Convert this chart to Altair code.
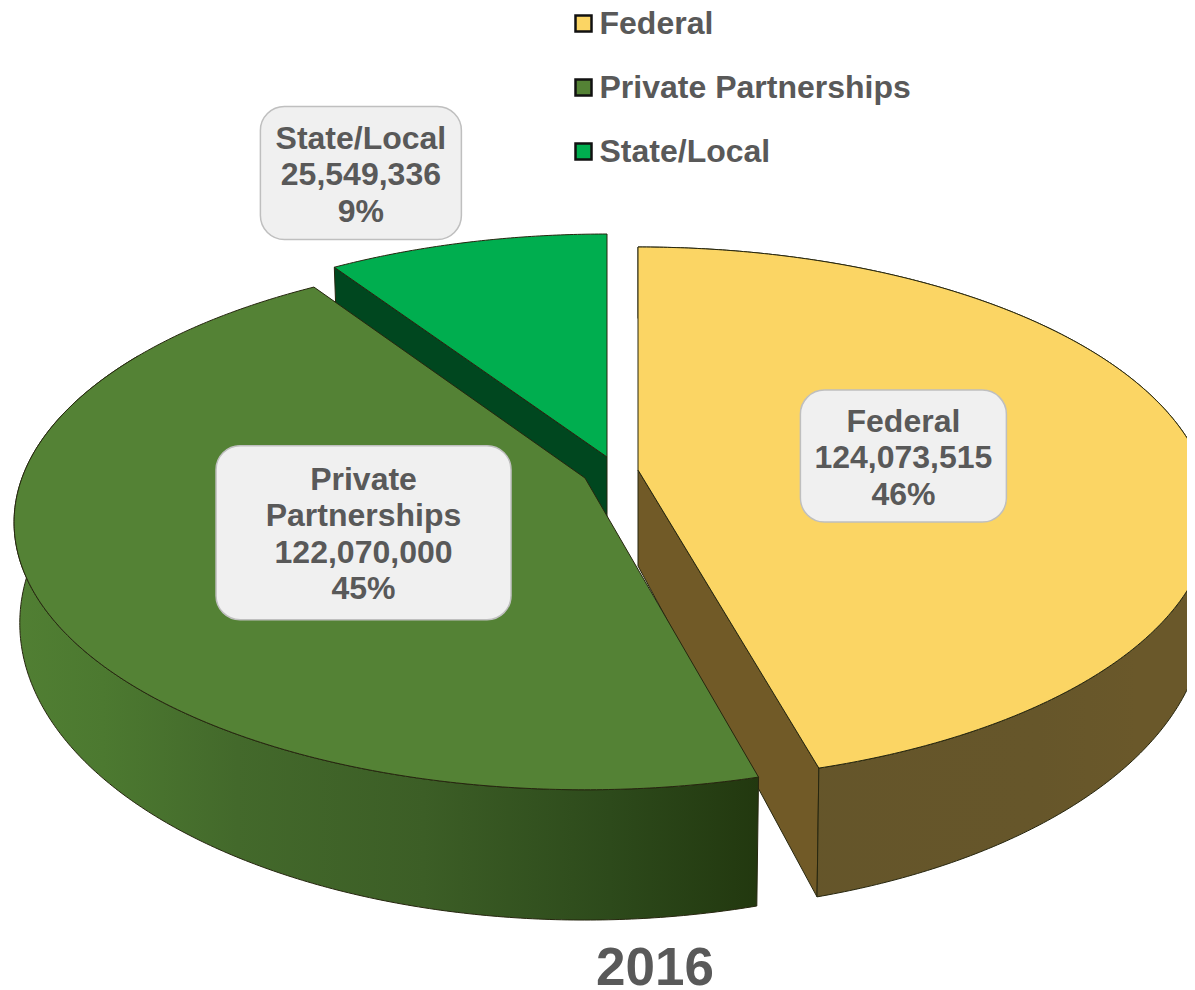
import math
import altair as alt
import pandas as pd

# ---- chart values ----
sources = ["Federal", "Private Partnerships", "State/Local"]
amounts = [124073515, 122070000, 25549336]
label_names = ["Federal", "Private\nPartnerships", "State/Local"]
year = "2016"

# ---- look ----
TOP = ["#fbd564", "#548235", "#00ae4f"]
TEXT = "#595959"
FONT = "Liberation Sans"
EDGE = "#26260f"
LINE = 36.5

# ---- layout of the tilted pie (page pixels) ----
B, K = 260.0, 0.166        # half axis and perspective
A = {"Federal": 565.0, "Private Partnerships": 563.0, "State/Local": 557.0}
ROTATE = {"Federal": 0.0, "Private Partnerships": 0.6, "State/Local": 0.0}
APEX = {"Federal": (638, 470), "Private Partnerships": (585, 478), "State/Local": (607, 457)}
DROP, DROP_K, SHRINK = 96.0, 0.11, 0.99   # depth of the pie's side wall
# label place: radius fraction and angle shift from the middle of its slice
LABEL_POS = {"Federal": (0.477, 1.3), "Private Partnerships": (0.431, -3.4), "State/Local": (1.439, -5.1)}
LABEL_BOX = {"Federal": (206, 132), "Private Partnerships": (295, 174), "State/Local": (201, 133)}
TEXT_NUDGE = 2

total = sum(amounts)
spans, start = {}, 0.0
for s, v in zip(sources, amounts):
    spans[s] = (start, start + 360.0 * v / total)
    start += 360.0 * v / total


def project(src, theta, r=1.0):
    cx, cy = APEX[src]
    t = math.radians(theta + ROTATE[src])
    u, v = r * math.sin(t), r * math.cos(t)
    w = 1 + K * v
    return cx + A[src] * u / w, cy - B * v / w


def lower(src, p):
    cx, cy = APEX[src]
    return cx + (p[0] - cx) * SHRINK, p[1] + DROP + DROP_K * (p[1] - cy)


def rim(src, a, b):
    n = max(2, int(abs(b - a) * 2))
    return [project(src, a + (b - a) * i / n) for i in range(n + 1)]


def frame(src, face, pts):
    pts = list(pts) + [pts[0]]
    return pd.DataFrame({"x": [p[0] for p in pts], "y": [p[1] for p in pts],
                         "source": src, "face": face, "i": range(len(pts))})


XS = alt.Scale(domain=[8, 1187], nice=False, zero=False)
YS = alt.Scale(domain=[990, 8], nice=False, zero=False)
X = alt.X("x:Q", scale=XS, axis=None)
Y = alt.Y("y:Q", scale=YS, axis=None)
ORDER = alt.Order("i:Q")


def grad(stops):
    return alt.Gradient(gradient="linear", x1=0, x2=1, y1=0, y2=0,
                        stops=[alt.GradientStop(color=c, offset=o) for o, c in stops])


def solid(df, fill):
    return alt.Chart(df).mark_line(fill=fill, stroke=EDGE, strokeWidth=1, clip=True).encode(x=X, y=Y, order=ORDER)


def top_face(src):
    a, b = spans[src]
    return frame(src, "top", [APEX[src]] + rim(src, a, b))


def rim_wall(src, a, b):
    r = rim(src, a, b)
    return frame(src, "wall", r + [lower(src, p) for p in reversed(r)])


def cut_wall(src, theta):
    apex, p = APEX[src], project(src, theta)
    return frame(src, "cut", [apex, p, lower(src, p), lower(src, apex)])


fed, pri, sta = sources
layers = []

layers.append(solid(cut_wall(sta, spans[sta][0]), "#00471f"))
layers.append(solid(cut_wall(fed, spans[fed][1]), "#715a27"))
layers.append(alt.Chart(rim_wall(fed, 0, spans[fed][1])).mark_line(
    fill=grad([(0, "#64552a"), (0.7, "#66562a"), (0.87, "#6a582a"), (1, "#6a582a")]),
    stroke=EDGE, strokeWidth=1, clip=True).encode(x=X, y=Y, order=ORDER))
layers.append(alt.Chart(rim_wall(pri, spans[pri][0], 300)).mark_line(
    fill=grad([(0, "#517f33"), (0.12, "#4c7930"), (0.3, "#43692b"), (0.55, "#3c5e26"), (0.8, "#2d4a1b"), (1, "#22380f")]),
    stroke=EDGE, strokeWidth=1, clip=True).encode(x=X, y=Y, order=ORDER))

tops = pd.concat([top_face(s) for s in sources], ignore_index=True)
layers.append(alt.Chart(tops).mark_line(stroke=EDGE, strokeWidth=1, clip=True).encode(
    x=X, y=Y, order=ORDER,
    fill=alt.Fill("source:N", sort=sources,
                  scale=alt.Scale(domain=sources, range=TOP),
                  legend=alt.Legend(title=None, orient="none", legendX=559.5, legendY=-0.5,
                                    symbolType="square", symbolSize=256, symbolStrokeColor="#111111",
                                    symbolStrokeWidth=2.5, symbolOpacity=1,
                                    labelFont=FONT, labelFontSize=32, labelFontWeight="bold",
                                    labelColor=TEXT, labelLimit=500, labelOffset=0, rowPadding=32))))

rows = []
for src, name, v in zip(sources, label_names, amounts):
    a, b = spans[src]
    r, shift = LABEL_POS[src]
    cx, cy = project(src, (a + b) / 2 + shift - ROTATE[src], r)
    w, h = LABEL_BOX[src]
    text = f"{name}\n{v:,}\n{round(100 * v / total)}%"
    rows.append({"x": cx - w / 2, "x2": cx + w / 2, "y": cy - h / 2, "y2": cy + h / 2, "cx": cx,
                 "cy": cy + TEXT_NUDGE - (text.count("\n")) * LINE / 2, "label": text})
boxes = pd.DataFrame(rows)
layers.append(alt.Chart(boxes).mark_rect(fill="#f0f0f0", stroke="#bfbfbf", strokeWidth=1.5, cornerRadius=24).encode(
    x=X, x2="x2:Q", y=Y, y2="y2:Q"))
layers.append(alt.Chart(boxes).mark_text(font=FONT, fontSize=32, fontWeight="bold", color=TEXT,
                                         lineBreak="\n", lineHeight=LINE, align="center", baseline="middle").encode(
    x=alt.X("cx:Q", scale=XS, axis=None), y=alt.Y("cy:Q", scale=YS, axis=None), text="label:N"))

layers.append(alt.Chart(pd.DataFrame({"t": [year]})).mark_text(
    font=FONT, fontSize=53, fontWeight="bold", color=TEXT, align="center", baseline="alphabetic").encode(
    x=alt.value(647), y=alt.value(977), text="t:N"))

chart = alt.layer(*layers).properties(
    width=1179, height=982, padding=0, background="white",
    autosize=alt.AutoSizeParams(type="none")).configure_view(stroke=None)
chart.save("out.html", embed_options={"renderer": "svg", "actions": False})
